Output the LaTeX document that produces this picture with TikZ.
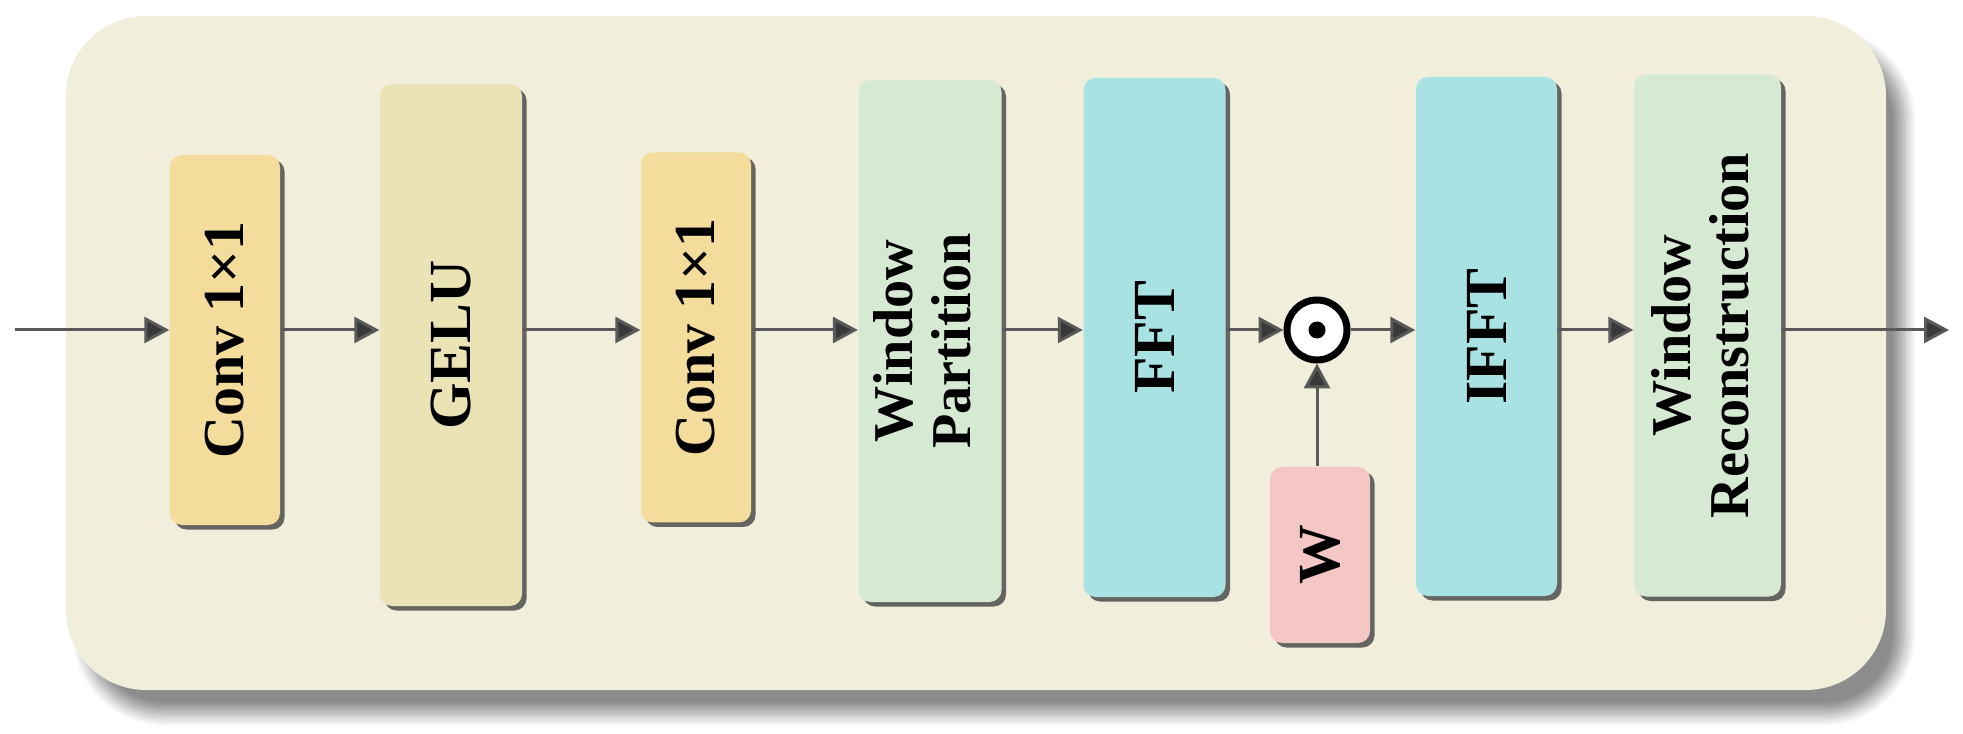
\documentclass[tikz,border=0pt]{standalone}
\usepackage{fontspec}
\setmainfont{Liberation Serif}
\usepackage{graphicx}
\definecolor{panelbg}{HTML}{F2EEDC}
\definecolor{convcol}{HTML}{F4DD9C}
\definecolor{gelucol}{HTML}{EAE3B5}
\definecolor{wincol}{HTML}{D6E9D3}
\definecolor{fftcol}{HTML}{A8E2E3}
\definecolor{wcol}{HTML}{F4C6C4}
\definecolor{arrowcol}{HTML}{595959}
\tikzstyle{panel}=[rounded corners=0.8cm,fill=panelbg,
blur shadow={shadow xshift=0.18cm,shadow yshift=-0.24cm,shadow blur radius=0.12cm,shadow blur steps=12,shadow opacity=45}]
\tikzstyle{block}=[rectangle,rounded corners=0.12cm,inner sep=0pt,
font=\fontsize{17}{18}\selectfont\bfseries,
drop shadow={shadow xshift=0.045cm,shadow yshift=-0.045cm,fill=black!70,opacity=0.85}]
\tikzstyle{conv}=[block,fill=convcol,minimum width=1.10cm,minimum height=3.70cm,
font=\fontsize{16.5}{18}\selectfont\bfseries]
\tikzstyle{gelu}=[block,fill=gelucol,minimum width=1.42cm,minimum height=5.22cm]
\tikzstyle{window}=[block,fill=wincol,minimum height=5.22cm,
font=\fontsize{16}{16.5}\selectfont\bfseries]
\tikzstyle{fourier}=[block,fill=fftcol,minimum width=1.42cm,minimum height=5.19cm]
\tikzstyle{weight}=[block,fill=wcol,minimum width=1.00cm,minimum height=1.76cm]
\tikzstyle{hadamard}=[circle,draw=black,line width=0.07cm,fill=white,
minimum size=0.6cm,inner sep=0pt,
path picture={\fill[black] (path picture bounding box.center) circle (0.085cm);}]
\usetikzlibrary{arrows.meta,shadows,shadows.blur}

\begin{document}
\begin{tikzpicture}[flow/.style={-{Triangle[length=2.5mm,width=2.6mm]},color=arrowcol,line width=0.03cm}]
            \useasboundingbox (0,0) rectangle (19.63,7.33);
            \path[panel] (0.66,0.43) rectangle (18.86,7.17);

            % SPATIAL PART

            \coordinate (in) at (0.15,4.03);
            \node[conv] (c1) at (2.25,3.93) {\rotatebox{90}{Conv 1×1}};
            \node[gelu] (gelu) at (4.51,3.88) {\rotatebox{90}{GELU}};
            \node[conv] (c2) at (6.96,3.955) {\rotatebox{90}{Conv 1×1}};

            \path[flow] (in) edge (c1.west |- in);
            \path[flow] (c1.east |- in) edge (gelu.west |- in);
            \path[flow] (gelu.east |- in) edge (c2.west |- in);

            % FREQUENCY PART

            \node[window,minimum width=1.43cm] (wp) at (9.30,3.92)
                {\rotatebox{90}{\begin{tabular}{@{}c@{}}Window\\Partition\end{tabular}}};
            \node[fourier] (fft) at (11.545,3.955) {\rotatebox{90}{FFT}};
            \node[hadamard] (mul) at (13.17,4.03) {};
            \node[weight] (w) at (13.20,1.78) {\rotatebox{90}{W}};
            \node[fourier,minimum width=1.41cm] (ifft) at (14.865,3.965) {\rotatebox{90}{IFFT}};
            \node[window,minimum width=1.47cm] (wr) at (17.075,3.975)
                {\rotatebox{90}{\begin{tabular}{@{}c@{}}Window\\Reconstruction\end{tabular}}};
            \coordinate (out) at (19.49,4.03);

            \path[flow] (c2.east |- in) edge (wp.west |- in);
            \path[flow] (wp.east |- in) edge (fft.west |- in);
            \path[flow] (fft.east |- in) edge (mul);
            \path[flow] (mul |- w.north) edge (mul);
            \path[flow] (mul) edge (ifft.west |- in);
            \path[flow] (ifft.east |- in) edge (wr.west |- in);
            \path[flow] (wr.east |- in) edge (out);

        \end{tikzpicture}
\end{document}
